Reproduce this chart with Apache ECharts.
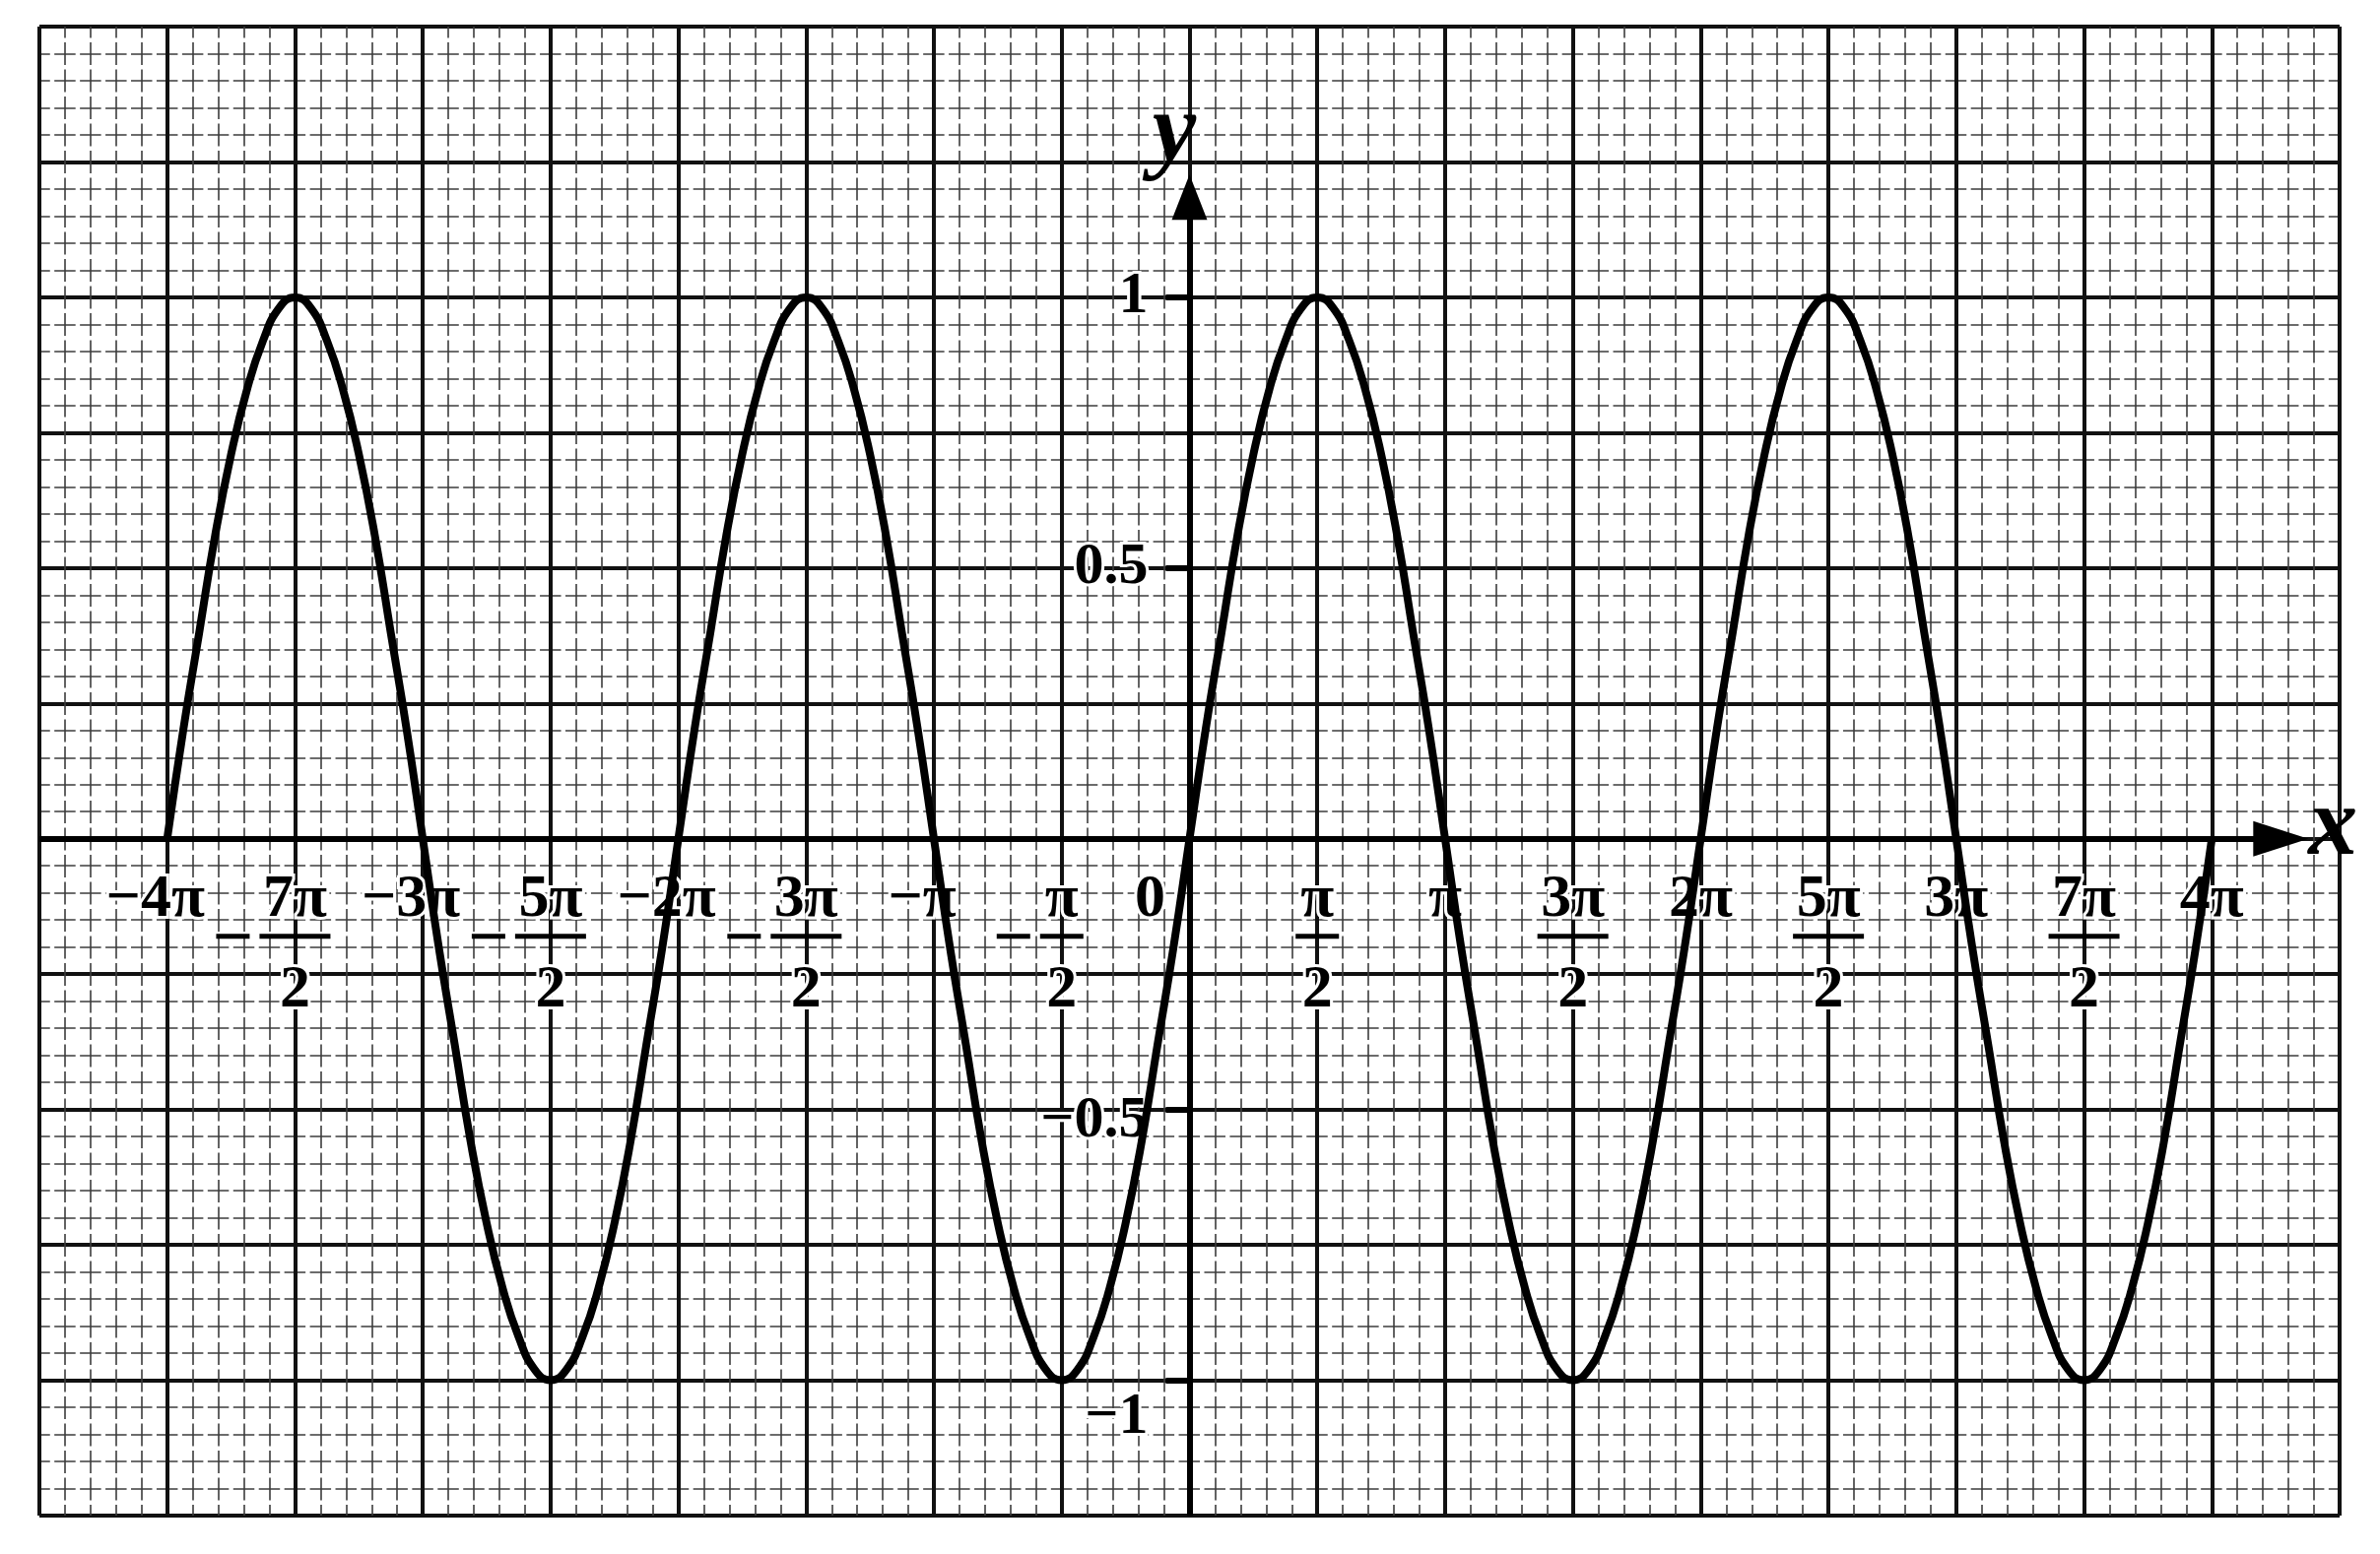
<!DOCTYPE html>
<html>
<head>
<meta charset="utf-8">
<script src="https://cdn.jsdelivr.net/npm/echarts@6/dist/echarts.min.js"></script>
<style>html,body{margin:0;padding:0;background:#fff}#c{width:2416px;height:1578px}</style>
</head>
<body>
<div id="c"></div>
<script>
const xValues = [
  -4,-3.9375,-3.875,-3.8125,-3.75,-3.6875,-3.625,-3.5625,-3.5,-3.4375,-3.375,-3.3125,-3.25,-3.1875,-3.125,-3.0625,
  -3,-2.9375,-2.875,-2.8125,-2.75,-2.6875,-2.625,-2.5625,-2.5,-2.4375,-2.375,-2.3125,-2.25,-2.1875,-2.125,-2.0625,
  -2,-1.9375,-1.875,-1.8125,-1.75,-1.6875,-1.625,-1.5625,-1.5,-1.4375,-1.375,-1.3125,-1.25,-1.1875,-1.125,-1.0625,
  -1,-0.9375,-0.875,-0.8125,-0.75,-0.6875,-0.625,-0.5625,-0.5,-0.4375,-0.375,-0.3125,-0.25,-0.1875,-0.125,-0.0625,
  0,0.0625,0.125,0.1875,0.25,0.3125,0.375,0.4375,0.5,0.5625,0.625,0.6875,0.75,0.8125,0.875,0.9375,
  1,1.0625,1.125,1.1875,1.25,1.3125,1.375,1.4375,1.5,1.5625,1.625,1.6875,1.75,1.8125,1.875,1.9375,
  2,2.0625,2.125,2.1875,2.25,2.3125,2.375,2.4375,2.5,2.5625,2.625,2.6875,2.75,2.8125,2.875,2.9375,
  3,3.0625,3.125,3.1875,3.25,3.3125,3.375,3.4375,3.5,3.5625,3.625,3.6875,3.75,3.8125,3.875,3.9375,4];
const yValues = [
  0,0.2,0.38,0.56,0.71,0.83,0.92,0.98,1,0.98,0.92,0.83,0.71,0.56,0.38,0.2,
  0,-0.2,-0.38,-0.56,-0.71,-0.83,-0.92,-0.98,-1,-0.98,-0.92,-0.83,-0.71,-0.56,-0.38,-0.2,
  0,0.2,0.38,0.56,0.71,0.83,0.92,0.98,1,0.98,0.92,0.83,0.71,0.56,0.38,0.2,
  0,-0.2,-0.38,-0.56,-0.71,-0.83,-0.92,-0.98,-1,-0.98,-0.92,-0.83,-0.71,-0.56,-0.38,-0.2,
  0,0.2,0.38,0.56,0.71,0.83,0.92,0.98,1,0.98,0.92,0.83,0.71,0.56,0.38,0.2,
  0,-0.2,-0.38,-0.56,-0.71,-0.83,-0.92,-0.98,-1,-0.98,-0.92,-0.83,-0.71,-0.56,-0.38,-0.2,
  0,0.2,0.38,0.56,0.71,0.83,0.92,0.98,1,0.98,0.92,0.83,0.71,0.56,0.38,0.2,
  0,-0.2,-0.38,-0.56,-0.71,-0.83,-0.92,-0.98,-1,-0.98,-0.92,-0.83,-0.71,-0.56,-0.38,-0.2,0];

const xTickValues = [-4,-3.5,-3,-2.5,-2,-1.5,-1,-0.5,0,0.5,1,1.5,2,2.5,3,3.5,4];
const xTickLabels = ['−4π','−7π/2','−3π','−5π/2','−2π','−3π/2','−π','−π/2','0','π/2','π','3π/2','2π','5π/2','3π','7π/2','4π'];
const yTickValues = [1, 0.5, -0.5, -1];
const yTickLabels = ['1', '0.5', '−0.5', '−1'];
const axisNames = ['x', 'y'];

const xRange = [-4.5, 4.5];
const yRange = [-1.25, 1.5];
const xAxisEnd = 4.27;
const yAxisEnd = 1.185;

const W = 2416, H = 1578;
const G = { left: 40, right: 41, top: 27, bottom: 39 };
const FONT = "'Liberation Serif','Times New Roman',serif";

// pixel distance from the grid edges to the zero lines (labels sit on the math axes)
const gridW = W - G.left - G.right, gridH = H - G.top - G.bottom;
const zeroFromBottom = gridH * (0 - yRange[0]) / (yRange[1] - yRange[0]);
const zeroFromLeft = gridW * (0 - xRange[0]) / (xRange[1] - xRange[0]);

const xLabelMap = {};
xTickValues.forEach((v, i) => { xLabelMap[v] = xTickLabels[i]; });
const yLabelMap = {};
yTickValues.forEach((v, i) => { yLabelMap[v] = yTickLabels[i]; });

function fmtX(v) {
  const s = xLabelMap[v];
  if (s === undefined) return '';
  if (s.indexOf('/') < 0) {
    if (s === '0') return '{n|0}{z|}';
    if (s[0] === '−') return '{n|' + s + '}{zn|}';
    return '{n|' + s + '}';
  }
  const neg = s[0] === '−';
  const body = neg ? s.slice(1) : s;
  const parts = body.split('/');
  const k = parts[0].length > 1 ? 'L' : 'S';
  if (neg) {
    return '{sp|}{num' + k + '|' + parts[0] + '}{sp|}\n{m|}{g|}{bar' + k + '|}{sp|}\n{sp|}{den' + k + '|' + parts[1] + '}{sp|}';
  }
  return '{num' + k + '|' + parts[0] + '}\n{bar' + k + '|}\n{den' + k + '|' + parts[1] + '}';
}
const yStyleOf = { '1': 'mid', '0.5': 'mid', '-0.5': 'dn1', '-1': 'dn2' };
function fmtY(v) {
  const s = yLabelMap[v];
  if (s === undefined) return '';
  return '{' + yStyleOf[String(v)] + '|' + s + '}';
}

function txt(extra) {
  return Object.assign({ fontFamily: FONT, fontWeight: 'bold', fontSize: 62, color: '#000', align: 'center',
    textBorderColor: '#fff', textBorderWidth: 6 }, extra);
}
function box(extra) {
  return Object.assign({ align: 'center', lineHeight: 14, height: 5 }, extra);
}
const xRich = {
  n: txt({ lineHeight: 60 }),
  numS: txt({ lineHeight: 60, width: 44 }),
  numL: txt({ lineHeight: 60, width: 72 }),
  denS: txt({ lineHeight: 96, width: 44 }),
  denL: txt({ lineHeight: 96, width: 72 }),
  barS: box({ width: 44, backgroundColor: '#000' }),
  barL: box({ width: 72, backgroundColor: '#000' }),
  m: box({ width: 34, backgroundColor: '#000' }),
  g: box({ width: 10 }),
  sp: box({ width: 44 }),
  z: box({ width: 80 }),
  zn: box({ width: 24 })
};
const yBase = { fontFamily: FONT, fontWeight: 'bold', fontSize: 60, color: '#000', textBorderColor: '#fff', textBorderWidth: 6 };
const yRich = {
  mid: Object.assign({}, yBase),
  dn1: Object.assign({}, yBase, { padding: [24, 0, 0, 0] }),
  dn2: Object.assign({}, yBase, { padding: [76, 0, 0, 0] })
};

const majorLine = { color: '#111', width: 4 };
const chart = echarts.init(document.getElementById('c'), null, { width: W, height: H });

const axisSegments = [
  [{ coord: [xRange[0], 0] }, { coord: [xAxisEnd, 0], symbol: 'triangle', symbolSize: [36, 56] }],
  [{ coord: [0, yRange[0]] }, { coord: [0, yAxisEnd], symbol: 'triangle', symbolSize: [36, 46] }]
].concat(yTickValues.map(v => [{ coord: [-0.093, v] }, { coord: [0, v] }]));

chart.setOption({
  animation: false,
  backgroundColor: '#fff',
  grid: Object.assign({ containLabel: false, outerBoundsMode: 'none' }, G),
  xAxis: [
    {
      type: 'value', position: 'top', min: xRange[0], max: xRange[1], interval: 0.5, z: 0,
      axisLine: { show: false, onZero: false }, axisTick: { show: false }, axisLabel: { show: false },
      splitLine: { show: true, lineStyle: majorLine },
      minorTick: { show: false, splitNumber: 5 },
      minorSplitLine: { show: true, lineStyle: { color: '#3c3c3c', width: 1.6, type: [23, 4.5], dashOffset: 11.5 } }
    },
    {
      type: 'value', position: 'bottom', offset: -zeroFromBottom, min: xRange[0], max: xRange[1], interval: 0.5, z: 1,
      axisLine: { show: false, onZero: false },
      axisTick: { show: false }, splitLine: { show: false },
      axisLabel: { show: true, margin: 32, formatter: fmtX, rich: xRich, fontFamily: FONT, fontSize: 62, lineHeight: 14 }
    }
  ],
  yAxis: [
    {
      type: 'value', position: 'right', min: yRange[0], max: yRange[1], interval: 0.25, z: 0,
      axisLine: { show: false, onZero: false }, axisTick: { show: false }, axisLabel: { show: false },
      splitLine: { show: true, lineStyle: majorLine },
      minorTick: { show: false, splitNumber: 5 },
      minorSplitLine: { show: true, lineStyle: { color: '#3c3c3c', width: 1.6, type: [21.5, 4.44], dashOffset: 10.75 } }
    },
    {
      type: 'value', position: 'left', offset: -zeroFromLeft, min: yRange[0], max: yRange[1], interval: 0.25, z: 1,
      axisLine: { show: false, onZero: false },
      axisTick: { show: false }, splitLine: { show: false },
      axisLabel: { show: true, margin: 42, formatter: fmtY, rich: yRich, fontFamily: FONT, fontSize: 60 }
    }
  ],
  series: [
    {
      type: 'line', xAxisIndex: 0, yAxisIndex: 0, z: 2,
      data: xValues.map((x, i) => [x, yValues[i]]),
      smooth: true, symbol: 'none', silent: true,
      lineStyle: { color: '#000', width: 8 },
      markLine: {
        silent: true, animation: false, symbol: ['none', 'none'],
        label: { show: false },
        lineStyle: { color: '#000', width: 6, type: 'solid' },
        emphasis: { disabled: true },
        data: axisSegments
      },
      markPoint: {
        silent: true, animation: false, symbol: 'circle', symbolSize: 1,
        itemStyle: { color: 'rgba(0,0,0,0)' },
        label: { show: true, position: 'inside', formatter: '{b}', fontFamily: FONT, fontStyle: 'italic',
          fontWeight: 'bold', fontSize: 100, color: '#000' },
        data: [
          { name: axisNames[0], coord: [4.474, 0.02] },
          { name: axisNames[1], coord: [-0.06, 1.30] }
        ]
      }
    }
  ]
});
</script>
</body>
</html>
